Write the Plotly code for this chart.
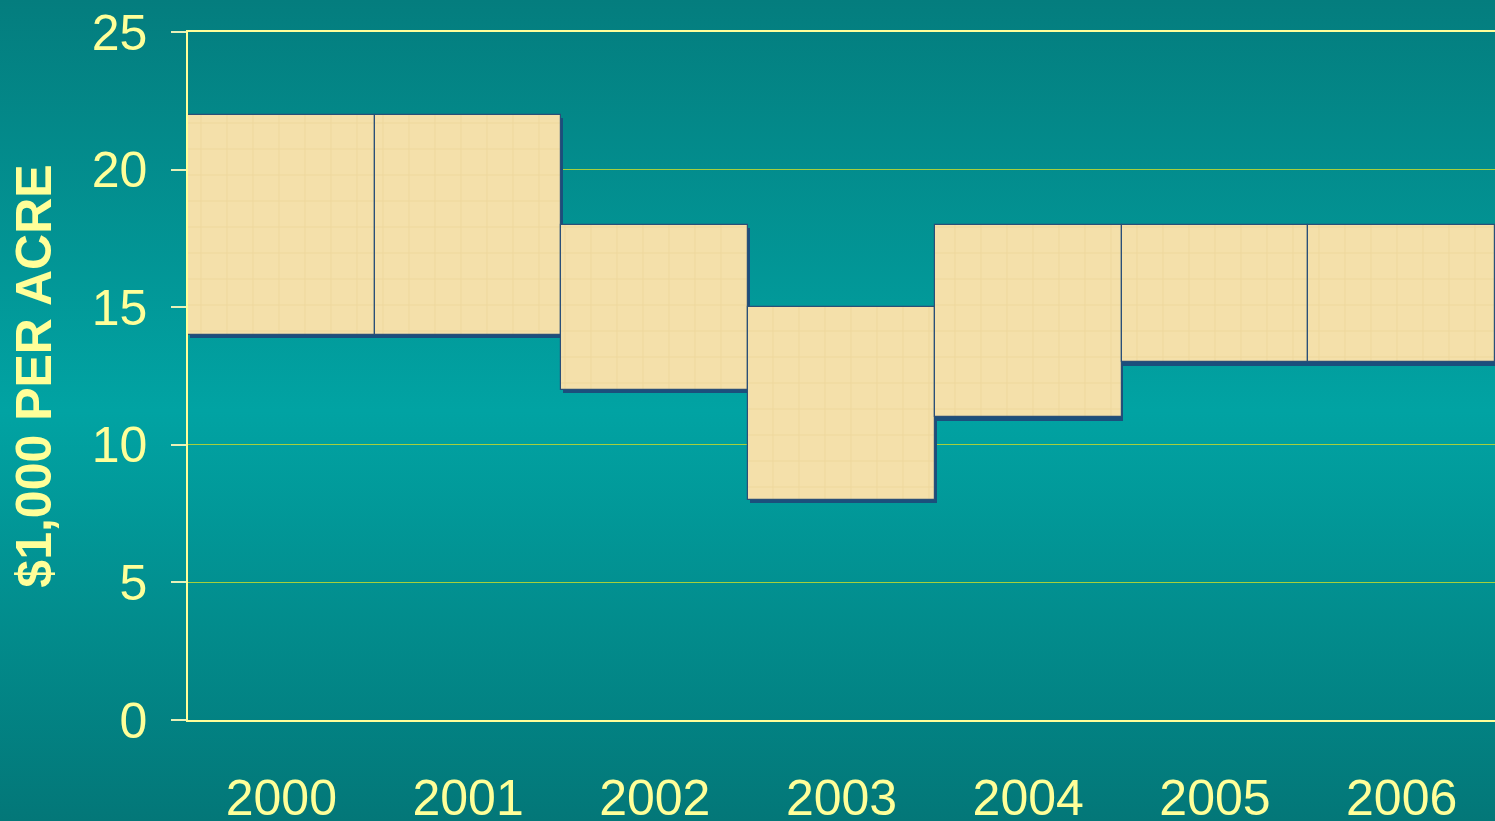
import base64
import plotly.graph_objects as go

years = ["2000", "2001", "2002", "2003", "2004", "2005", "2006"]
lows = [14, 14, 12, 8, 11, 13, 13]
highs = [22, 22, 18, 15, 18, 18, 18]
y_ticks = [0, 5, 10, 15, 20, 25]

spans = [h - l for h, l in zip(highs, lows)]

W, H = 1495, 821
ML, MR, MT, MB = 188, 0, 32, 101
PW, PH = W - ML - MR, H - MT - MB

svg = f'''<svg xmlns="http://www.w3.org/2000/svg" width="{W}" height="{H}" preserveAspectRatio="none">
<defs><linearGradient id="g" x1="0" y1="0" x2="0" y2="1">
<stop offset="0" stop-color="#047d7e"/>
<stop offset="0.5" stop-color="#01a3a3"/>
<stop offset="1" stop-color="#037778"/>
</linearGradient></defs>
<rect x="0" y="0" width="{W}" height="{H}" fill="url(#g)"/></svg>'''
bg_uri = "data:image/svg+xml;base64," + base64.b64encode(svg.encode()).decode()

text_color = "#ffff99"
bar_color = "#f4e0aa"

fig = go.Figure()

# shadow behind bars
fig.add_trace(go.Bar(
    x=years, y=spans, base=[l - 0.12 for l in lows],
    width=1.0, offset=-0.49,
    marker=dict(color="#1b4f7c", line=dict(width=0)),
    hoverinfo="skip", showlegend=False,
))
fig.add_trace(go.Bar(
    x=years, y=spans, base=lows,
    width=1.0, offset=-0.5,
    marker=dict(
        color=bar_color,
        line=dict(color="#2a4f78", width=1.2),
        pattern=dict(shape="+", fgcolor="#e3c983", fgopacity=0.35, size=26, solidity=0.08),
    ),
    showlegend=False,
))

fig.update_layout(
    width=W, height=H,
    margin=dict(l=ML, r=MR, t=MT, b=MB, pad=0),
    paper_bgcolor="#029a9a",
    plot_bgcolor="rgba(0,0,0,0)",
    barmode="overlay",
    bargap=0,
    font=dict(family="Liberation Sans, Arial, sans-serif", color=text_color, size=50),
    images=[dict(
        source=bg_uri, xref="paper", yref="paper",
        x=-ML / PW, y=1 + MT / PH, sizex=W / PW, sizey=H / PH,
        xanchor="left", yanchor="top", sizing="stretch", layer="below",
    )],
    xaxis=dict(
        type="category", range=[-0.5, 6.5], automargin=False,
        showgrid=False, showline=True, linecolor=text_color, linewidth=1.5, mirror=True,
        ticks="outside", ticklen=33, tickcolor="rgba(0,0,0,0)",
        tickfont=dict(size=50, color=text_color),
        zeroline=False,
    ),
    yaxis=dict(
        range=[0, 25], tickvals=y_ticks, automargin=False,
        showgrid=True, gridcolor="#a6cf3c", gridwidth=1,
        showline=True, linecolor=text_color, linewidth=1.5,
        ticks="outside", ticklen=15, tickcolor="#e8f0b8", tickwidth=1.5,
        ticklabelstandoff=14,
        tickfont=dict(size=50, color=text_color),
        zeroline=False,
        title=dict(text="<b>$1,000 PER ACRE</b>", font=dict(size=50, color=text_color), standoff=24),
    ),
)

fig.write_html(
    "out.html",
    config={"displayModeBar": False},
    post_script="document.body.style.margin='0';document.body.style.overflow='hidden';",
)
